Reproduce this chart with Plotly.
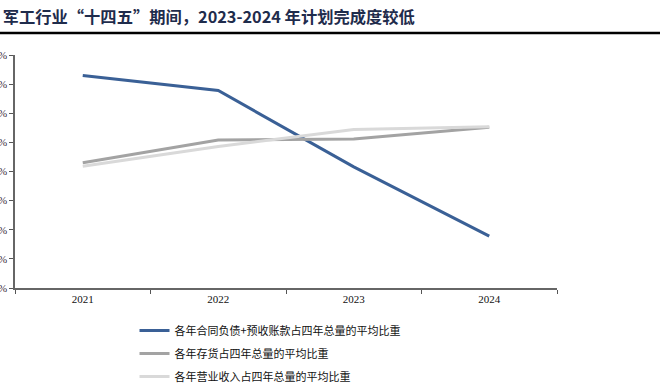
import plotly.graph_objects as go

years = ["2021", "2022", "2023", "2024"]
contract = [36.5, 33.9, 20.8, 8.9]
inventory = [21.5, 25.4, 25.6, 27.6]
revenue = [20.9, 24.3, 27.2, 27.7]
y_ticks = [0, 5, 10, 15, 20, 25, 30, 35, 40]
y_labels = [f"{v}%" for v in y_ticks]

names = ["各年合同负债+预收账款占四年总量的平均比重",
         "各年存货占四年总量的平均比重",
         "各年营业收入占四年总量的平均比重"]
colors = ["#3a6096", "#a3a3a3", "#d9d9d9"]

fig = go.Figure()
for i, (vals, nm, c) in enumerate(zip([contract, inventory, revenue], names, colors)):
    fig.add_trace(go.Scatter(x=years, y=vals, mode="lines", name=nm,
                             legendgroup=str(i),
                             line=dict(color=c, width=3)))

fig.update_layout(
    width=668, height=387,
    margin=dict(l=15, r=111, t=55, b=99, autoexpand=False),
    plot_bgcolor="white", paper_bgcolor="white",
    showlegend=True,
    legend=dict(x=0.2205, y=-0.12, xanchor="left", yanchor="top",
                orientation="v", tracegroupgap=4,
                font=dict(family="Noto Sans CJK SC", size=11, color="#111"),
                itemwidth=30, bgcolor="rgba(0,0,0,0)"),
    title=dict(text="<b>军工行业“十四五”期间，2023-2024 年计划完成度较低</b>",
               x=0.004, xanchor="left", y=0.955, yanchor="middle",
               font=dict(family="Noto Sans CJK SC", size=16.3, color="#1f2c4c")),
)
fig.update_xaxes(type="category", tickson="boundaries", ticks="outside", ticklen=4,
                 tickcolor="#555", showline=True, linecolor="#666", linewidth=1.5,
                 showgrid=False, range=[-0.5, 3.5], automargin=False,
                 tickfont=dict(family="Liberation Serif", size=11, color="#111"))
fig.update_yaxes(range=[0, 40], tickvals=y_ticks, ticktext=y_labels,
                 ticks="outside", ticklen=4, tickcolor="#555",
                 showline=True, linecolor="#666", linewidth=1.5,
                 showgrid=False, zeroline=False, automargin=False,
                 tickfont=dict(family="Liberation Serif", size=11, color="#3a2a3a"))
fig.add_shape(type="line", xref="paper", yref="paper",
              x0=-15/542, x1=645/542, y0=(387-99-33)/233, y1=(387-99-33)/233,
              line=dict(color="black", width=2.5))

fig.write_html("out.html", config={"displayModeBar": False},
               post_script="document.body.style.margin='0';")
